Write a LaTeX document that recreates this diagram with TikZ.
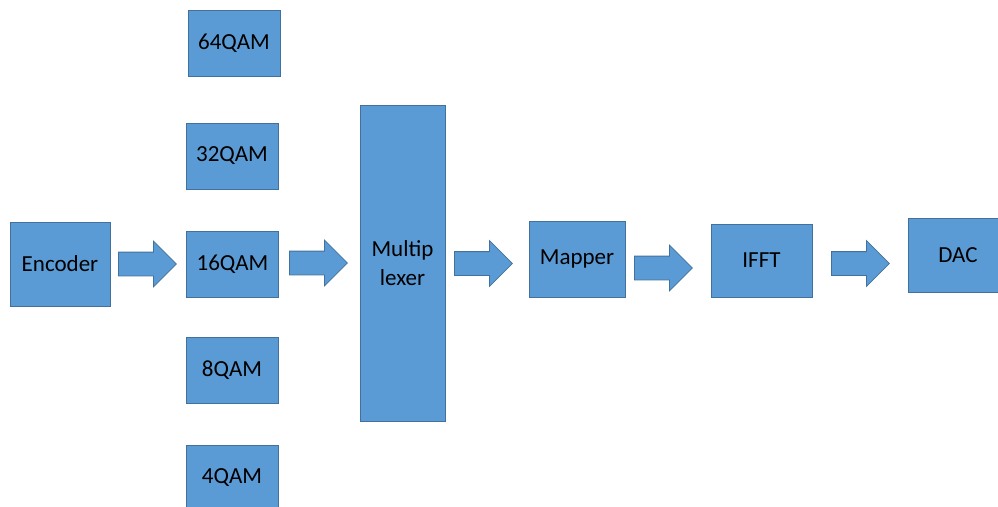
\documentclass[tikz,border=0pt]{standalone}
\usepackage{fontspec}
\setmainfont{Carlito}
\usetikzlibrary{shapes.arrows,positioning}
\definecolor{boxblue}{RGB}{91,155,213}
\definecolor{edgeblue}{RGB}{65,113,156}

\begin{document}
\begin{tikzpicture}[x=1pt, y=-1pt, font=\fontsize{23}{29.5}\selectfont,
        block/.style={rectangle, draw=edgeblue, fill=boxblue, line width=0.8pt, inner sep=0pt, align=center},
        qam/.style={block, minimum width=92pt, minimum height=66pt},
        blockarrow/.style={single arrow, draw=edgeblue, fill=boxblue, line width=0.8pt, inner xsep=0pt, inner ysep=11.5pt,
            minimum height=58pt, single arrow head extend=11pt, single arrow tip angle=90, anchor=west}]
        \useasboundingbox (0,0) rectangle (998,506);
        \node[block, minimum width=100pt, minimum height=84pt] (enc) at (60,264) {Encoder};
        \node[qam] (q64) at (234,43.5) {64QAM};
        \node[qam] (q32) at (232,156) {32QAM};
        \node[qam] (q16) at (232.5,264) {16QAM};
        \node[qam] (q8) at (232,370) {8QAM};
        \node[qam] (q4) at (232,478) {4QAM};
        \node[block, minimum width=85pt, minimum height=316pt] (mux) at (402.5,263) {Multip\\lexer};
        \node[block, minimum width=96pt, minimum height=76pt] (map) at (577,259) {Mapper};
        \node[block, minimum width=101pt, minimum height=73pt] (ifft) at (761.5,260.5) {IFFT};
        \node[block, minimum width=90pt, minimum height=74pt, text depth=0pt] (dac) at (953,255) {\hspace*{10pt}DAC};

        % arrows between the blocks
        \node[blockarrow] (a1) at (118,264) {};
        \node[blockarrow] (a2) at (289,263) {};
        \node[blockarrow] (a3) at (454,263.5) {};
        \node[blockarrow] (a4) at (634,268) {};
        \node[blockarrow] (a5) at (831,263.5) {};
\end{tikzpicture}
\end{document}
